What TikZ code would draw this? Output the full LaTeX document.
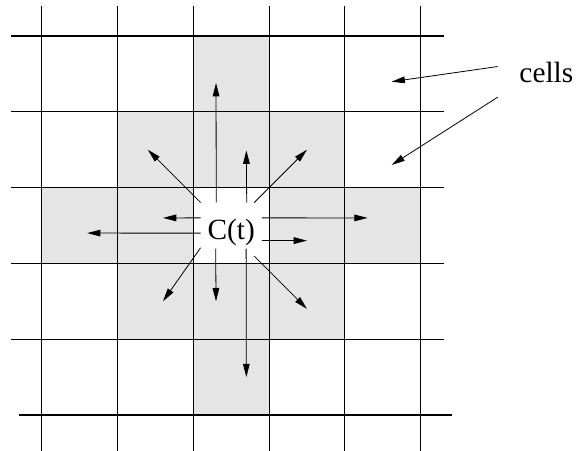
\documentclass[tikz,border=0pt]{standalone}
\usepackage{fontspec}
\setmainfont{Liberation Serif}
\newfontfamily\timesfont{Liberation Serif}
\usetikzlibrary{arrows.meta}

\begin{document}
\begin{tikzpicture}[
  x=2cm, y=2cm,
  >={Triangle[length=10pt,width=5pt]},
  every node/.style={text=black,font=\timesfont\fontsize{22}{26}\selectfont},
  gridline/.style={line width=0.8pt},
  shaded/.style={fill=gray!20},
  flow/.style={->,line width=0.6pt}
]
  \useasboundingbox (-0.55,-0.462) rectangle (7.049,5.475);
  \foreach \cx/\cy in {2/4,1/3,2/3,3/3,0/2,1/2,3/2,4/2,1/1,2/1,3/1,2/0}
    \fill[shaded] (\cx,\cy) rectangle ++(1,1);
  \foreach \gx in {0,...,5}
    \draw[gridline] (\gx,5.4) -- (\gx,-0.47);
  \foreach \gy in {1,...,5}
    \draw[gridline] (-0.4,\gy) -- (5.31,\gy);
  \draw[gridline] (-0.3,0) -- (5.41,0);

  \node[minimum width=1.6cm,minimum height=1.2cm,inner sep=0pt,
    text height=21.6pt,text depth=0pt] (ct) at (2.5,2.5) {C(t)};
  \foreach \a/\ex/\ey [count=\i] in {123.7/2.3/4.38, 56.3/2.7/3.49,
      143.1/1.4/3.5, 45/3.5/3.5, 166/1.6/2.6, 194/0.6/2.4,
      14/4.3/2.6, -26.6/3.5/2.3, 216.9/1.6/1.5, 236.3/2.3/1.5,
      303.7/2.7/0.5} {
    \coordinate (e\i) at (\ex,\ey);
    \draw[flow] (ct.\a) -- (e\i);
  }
  \coordinate (e12) at (3.5,1.4);
  \draw[flow] ([shift={(-2mm,-2mm)}]ct.south east) -- (e12);

  \node[anchor=base west,inner sep=0pt] (cells) at (6.3,4.39) {cells};
  \coordinate (c1) at (4.616,4.397);
  \coordinate (c2) at (4.616,3.298);
  \draw[flow] ([shift={(-5.7mm,1.5mm)}]cells.west) -- (c1);
  \draw[flow] ([shift={(-5.7mm,-6.6mm)}]cells.west) -- (c2);
\end{tikzpicture}
\end{document}
